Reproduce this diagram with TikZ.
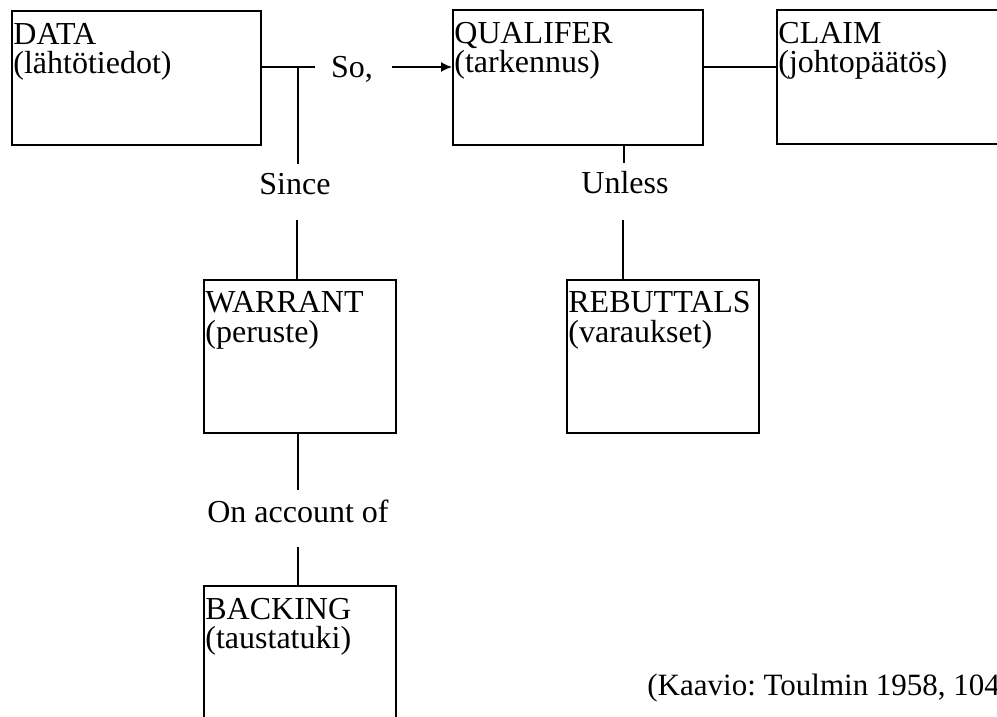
\documentclass[tikz,border=0pt]{standalone}
\usepackage{fontspec}
\setmainfont{Liberation Serif}
\usetikzlibrary{arrows.meta}
\begin{document}
\frenchspacing
\begin{tikzpicture}[x=0.5pt,y=-0.5pt,
  box/.style={draw, line width=1.1pt, rectangle, anchor=north west, inner sep=0pt},
  lbl/.style={font=\fontsize{16pt}{15pt}\selectfont, inner sep=0pt},
  btext/.style={lbl, anchor=base west},
  conn/.style={line width=0.7pt}]
\useasboundingbox (0,0) rectangle (997,717);
\clip (0,0) rectangle (997,717);

% boxes
\node[box, minimum width=124.5pt, minimum height=67pt] (data) at (11,10) {};
\node[box, minimum width=125pt, minimum height=67.5pt] (qual) at (452,9) {};
\node[box, minimum width=130pt, minimum height=67pt] (claim) at (776,9) {};
\node[box, minimum width=96pt, minimum height=76.5pt] (warrant) at (203,279) {};
\node[box, minimum width=96pt, minimum height=76.5pt] (rebut) at (566,279) {};
\node[box, minimum width=96pt, minimum height=76.5pt] (backing) at (203,585) {};

% box texts
\node[btext] (dataA) at (13,45) {DATA};
\node[btext] (dataB) at (13,74) {(lähtötiedot)};
\node[btext] (qualA) at (454,44) {QUALIFER};
\node[btext] (qualB) at (454,73) {(tarkennus)};
\node[btext] (claimA) at (778,44) {CLAIM};
\node[btext] (claimB) at (778,73) {(johtopäätös)};
\node[btext] (warrantA) at (205,313) {WARRANT};
\node[btext] (warrantB) at (205,342) {(peruste)};
\node[btext] (rebutA) at (568,313) {REBUTTALS};
\node[btext] (rebutB) at (568,342) {(varaukset)};
\node[btext] (backingA) at (205,619) {BACKING};
\node[btext] (backingB) at (205,648) {(taustatuki)};

% labels
\node[lbl, anchor=base] (so) at (352,78) {So,};
\node[lbl, anchor=base] (since) at (295,195) {Since};
\node[lbl, anchor=base] (unless) at (625,193) {Unless};
\node[lbl, anchor=base] (onacc) at (298,522) {On account of};
\node[lbl, font=\fontsize{15.5pt}{15pt}\selectfont, anchor=base west] (kaavio) at (647,695) {(Kaavio: Toulmin 1958, 104};

% connector coordinates
\coordinate (soL) at (315,67);
\coordinate (soR) at (392,67);
\coordinate (jn) at (298,67);
\coordinate (sTop) at (298,164);
\coordinate (sBot) at (297,220);
\coordinate (qc) at (702,67);
\coordinate (uTop) at (624,163);
\coordinate (uBot) at (623,220);
\coordinate (oTop) at (298,490);
\coordinate (oBot) at (298,547);

% connectors
\draw[conn] (data.east |- soL) -- (soL);
\draw[conn] (jn) -- (sTop);
\draw[conn] (sBot) -- (warrant.north -| sBot);
\draw[conn, -{Latex[length=5.5pt,width=5pt]}] (soR) -- (qual.west |- soR);
\draw[conn] (qual.east |- qc) -- (claim.west |- qc);
\draw[conn] (qual.south -| uTop) -- (uTop);
\draw[conn] (uBot) -- (rebut.north -| uBot);
\draw[conn] (warrant.south -| oTop) -- (oTop);
\draw[conn] (oBot) -- (backing.north -| oBot);
\end{tikzpicture}
\end{document}
